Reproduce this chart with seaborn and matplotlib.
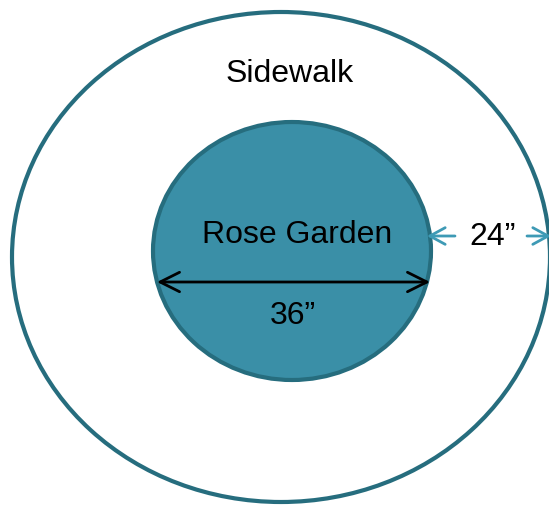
import matplotlib
matplotlib.use("Agg")
import matplotlib.pyplot as plt
from matplotlib.patches import Ellipse
import seaborn as sns

sns.set_theme(style="white")
plt.rcParams['font.family'] = ['Liberation Sans', 'DejaVu Sans']

# Diagram content
labels = ["Sidewalk", "Rose Garden", "36\u201d", "24\u201d"]
label_x = [290, 297, 293, 493]
label_y = [74, 235, 316, 237]

# Shapes (pixel layout): center x, center y, width, height
shape_names = ["outer", "inner"]
shape_cx = [281, 292]
shape_cy = [258, 252]
shape_w = [538, 278]
shape_h = [490, 258]

edge_color = "#266d7e"
fill_color = "#3a8fa7"
arrow_teal = "#3e9ab5"

W, H = 549, 506
fig = plt.figure(figsize=(W / 100, H / 100), dpi=100)
ax = fig.add_axes([0, 0, 1, 1])
ax.set_xlim(0, W)
ax.set_ylim(H, 0)
ax.set_axis_off()

ax.add_patch(Ellipse((shape_cx[0], shape_cy[0]), shape_w[0], shape_h[0],
                     facecolor="white", edgecolor=edge_color, lw=3.0))
ax.add_patch(Ellipse((shape_cx[1], shape_cy[1]), shape_w[1], shape_h[1],
                     facecolor=fill_color, edgecolor=edge_color, lw=3.0))

# black diameter arrow
ax.annotate("", xy=(157, 283), xytext=(430, 283),
            arrowprops=dict(arrowstyle="<->,head_length=1.4,head_width=0.7",
                            mutation_scale=10, color="black", lw=2.0,
                            shrinkA=0, shrinkB=0))
# teal sidewalk arrows
ax.annotate("", xy=(427, 237), xytext=(455, 237),
            arrowprops=dict(arrowstyle="->,head_length=1.1,head_width=0.6",
                            mutation_scale=10, color=arrow_teal, lw=2.0,
                            shrinkA=0, shrinkB=0))
ax.annotate("", xy=(551, 237), xytext=(527, 237), annotation_clip=False,
            arrowprops=dict(arrowstyle="->,head_length=1.1,head_width=0.6",
                            mutation_scale=10, color=arrow_teal, lw=2.0,
                            shrinkA=0, shrinkB=0))

for t, x, y in zip(labels, label_x, label_y):
    ax.text(x, y, t, ha="center", va="center", fontsize=23, color="black")

fig.savefig("out.png", dpi=100)
